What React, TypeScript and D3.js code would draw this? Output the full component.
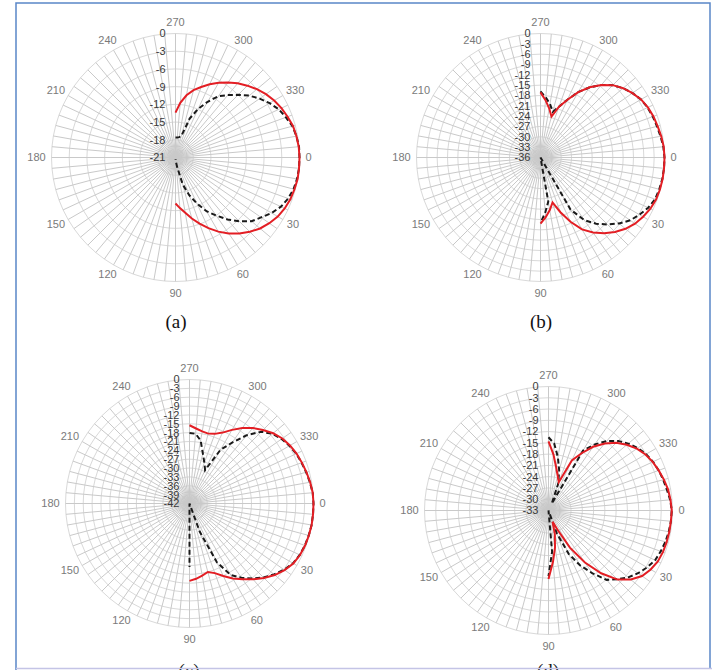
import { useEffect, useRef } from 'react';
import * as d3 from 'd3';

// angle categories (deg, clockwise from east), only the right half carries data
const angles = [270, 275, 280, 285, 290, 295, 300, 305, 310, 315, 320, 325, 330, 335, 340, 345, 350, 355,
  0, 5, 10, 15, 20, 25, 30, 35, 40, 45, 50, 55, 60, 65, 70, 75, 80, 85, 90];

const redA = [-13.4, -11.7, -10.3, -9.2, -8.3, -7.3, -6.4, -5.5, -4.6, -3.8, -3.0, -2.3, -1.7, -1.2, -0.8, -0.4, -0.2, -0.05,
  0, 0, 0, -0.15, -0.3, -0.6, -1.0, -1.6, -2.3, -3.2, -4.2, -5.3, -6.5, -7.8, -9.1, -10.3, -11.5, -12.4, -13.2];
const dashA = [-17.6, -17.6, -17.5, -17.3, -14.0, -11.9, -10.1, -8.3, -7.2, -6.0, -4.7, -3.6, -2.6, -1.7, -1.1, -0.5, -0.2, 0,
  0, 0, -0.1, -0.3, -0.7, -1.3, -2.2, -3.3, -4.2, -5.7, -7.3, -9.0, -10.5, -12.4, -14.2, -16.3, -19.3, -20.3, -20.7];

const redB = [-17.1, -19.3, -21.5, -23.7, -20.3, -17.5, -14.1, -11.1, -8.5, -6.3, -4.7, -3.4, -2.3, -1.6, -1.1, -0.8, -0.4, -0.1,
  0, 0, 0, -0.1, -0.3, -0.8, -1.6, -2.5, -3.8, -5.4, -7.3, -9.4, -11.9, -15.4, -19.1, -22.5, -20.5, -18.6, -16.8];
const dashB = [-16.8, -18.5, -20.2, -22.3, -20.3, -17.5, -14.1, -11.1, -8.5, -6.3, -4.7, -3.4, -2.3, -1.7, -1.3, -1.0, -0.6, -0.2,
  0, 0, -0.1, -0.3, -0.6, -1.5, -2.8, -4.2, -6.2, -8.5, -10.9, -13.8, -18.5, -36, -36, -36, -23.0, -20.0, -17.0];

const redC = [-15.5, -16.5, -17.2, -17.5, -16.9, -15.5, -13.2, -10.8, -8.6, -6.8, -5.0, -3.6, -2.7, -2.0, -1.5, -1.0, -0.5, -0.1,
  0, 0, 0, -0.15, -0.35, -0.7, -1.4, -2.7, -4.3, -6.3, -8.5, -10.7, -12.7, -14.9, -16.9, -18.0, -17.2, -16.4, -15.8];
const dashC = [-18.1, -18.3, -20.3, -24.5, -27.3, -29.5, -21.0, -16.8, -11.8, -7.6, -5.3, -3.9, -2.9, -2.1, -1.6, -1.1, -0.6, -0.1,
  0, 0, 0, -0.2, -0.4, -0.8, -1.5, -2.9, -4.6, -6.6, -8.8, -11.3, -14.0, -20.0, -31.8, -42, -42, -42, -20.5];

const redD = [-14.6, -18.0, -21.3, -23.5, -25.0, -18.3, -15.4, -12.3, -9.7, -7.5, -5.8, -4.3, -3.2, -2.4, -1.8, -1.2, -0.7, -0.4,
  -0.2, -0.3, -0.35, -0.45, -0.6, -0.9, -1.6, -2.6, -4.4, -7.0, -11.2, -16.1, -21.6, -27.5, -29.8, -26.5, -23.0, -19.3, -14.8];
const dashD = [-13.5, -15.2, -18.6, -22.0, -25.5, -31, -14.6, -11.5, -8.9, -6.8, -5.3, -4.0, -3.0, -2.3, -1.8, -1.4, -1.0, -0.5,
  -0.2, -0.3, -0.5, -0.8, -1.2, -1.7, -2.7, -3.9, -5.3, -7.1, -8.9, -12.6, -16.1, -20.2, -26.5, -33, -33, -22.0, -15.5];

const panelNames = ['(a)', '(b)', '(c)', '(d)'];
const axisMins = [-21, -36, -42, -33];
const angleTicks = [0, 30, 60, 90, 120, 150, 180, 210, 240, 270, 300, 330];

const W = 712;
const H = 670;
const R = 124;

const toRad = (deg: number) => ((deg + 90) * Math.PI) / 180;

const App = () => {
  const svgRef = useRef<SVGSVGElement | null>(null);

  useEffect(() => {
    const svg = d3.select(svgRef.current);
    svg.selectAll('*').remove();

    svg.append('rect').attr('width', W).attr('height', H).attr('fill', '#fff');

    const series = [[redA, dashA], [redB, dashB], [redC, dashC], [redD, dashD]];
    const centers = [[175.5, 157.5], [540.5, 157.5], [189.5, 503.5], [548.5, 510.5]];
    const namePos = [[176, 328], [541, 328], [189, 677], [548, 677]];

    series.forEach(([red, dash], p) => {
      const [cx, cy] = centers[p];
      const min = axisMins[p];
      const g = svg.append('g').attr('transform', `translate(${cx},${cy})`);

      const r = d3.scaleLinear().domain([min, 0]).range([0, R]).clamp(true);
      const ticks = d3.range(min, 0.001, 3);
      const spokes = d3.range(0, 360, 5);

      // rings
      const ring = d3.lineRadial<number>().angle(d => toRad(d)).curve(d3.curveLinearClosed);
      ticks.forEach(t => {
        g.append('path')
          .attr('d', ring.radius(r(t))(spokes))
          .attr('fill', 'none')
          .attr('stroke', '#d9d9d9')
          .attr('stroke-width', 1);
      });

      // spokes
      g.selectAll('line.spoke')
        .data(spokes)
        .join('line')
        .attr('class', 'spoke')
        .attr('x1', 0)
        .attr('y1', 0)
        .attr('x2', d => R * Math.cos((d * Math.PI) / 180))
        .attr('y2', d => R * Math.sin((d * Math.PI) / 180))
        .attr('stroke', '#c9c9c9')
        .attr('stroke-width', 1);

      const line = d3.lineRadial<number>()
        .angle((d, i) => toRad(angles[i]))
        .radius(d => r(d));

      g.append('path')
        .datum(dash)
        .attr('d', line)
        .attr('fill', 'none')
        .attr('stroke', '#1a1a1a')
        .attr('stroke-width', 2)
        .attr('stroke-dasharray', '5,3');

      g.append('path')
        .datum(red)
        .attr('d', line)
        .attr('fill', 'none')
        .attr('stroke', '#e31e24')
        .attr('stroke-width', 2);

      // radial value labels
      g.selectAll('text.val')
        .data(ticks)
        .join('text')
        .attr('class', 'val')
        .attr('x', -10)
        .attr('y', d => -r(d))
        .attr('dy', '0.35em')
        .attr('text-anchor', 'end')
        .style('font-family', 'Liberation Sans, Arial, sans-serif')
        .style('font-size', '11px')
        .style('fill', '#3a3a3a')
        .text(d => String(Math.round(d)));

      // angle labels
      g.selectAll('text.ang')
        .data(angleTicks)
        .join('text')
        .attr('class', 'ang')
        .each(function (d) {
          const a = (d * Math.PI) / 180;
          const w = String(d).length * 6;
          const c = Math.cos(a);
          const s = Math.sin(a);
          const x = c * (133 + Math.abs(c) * (w / 2 - 3));
          const y = s * (133 + Math.abs(s) * 2.5);
          d3.select(this).attr('x', x).attr('y', y);
        })
        .attr('dy', '0.35em')
        .attr('text-anchor', 'middle')
        .style('font-family', 'Liberation Sans, Arial, sans-serif')
        .style('font-size', '11px')
        .style('fill', '#7a7a7a')
        .text(d => String(d));

      svg.append('text')
        .attr('x', namePos[p][0])
        .attr('y', namePos[p][1])
        .attr('text-anchor', 'middle')
        .style('font-family', 'Liberation Serif, Times New Roman, serif')
        .style('font-size', '19px')
        .style('fill', '#111')
        .text(panelNames[p]);
    });

    // frame
    svg.append('path')
      .attr('d', `M16,670 L16,3 L710,3 L710,668`)
      .attr('fill', 'none')
      .attr('stroke', '#5a86c8')
      .attr('stroke-width', 1.5);
    svg.append('line')
      .attr('x1', 16).attr('x2', 712).attr('y1', 668.5).attr('y2', 668.5)
      .attr('stroke', '#c4c4e6')
      .attr('stroke-width', 1.5);
  }, []);

  return (
    <svg
      ref={svgRef}
      width={W}
      height={H}
      style={{ position: 'absolute', left: 0, top: 0, display: 'block' }}
    />
  );
};

export default App;
